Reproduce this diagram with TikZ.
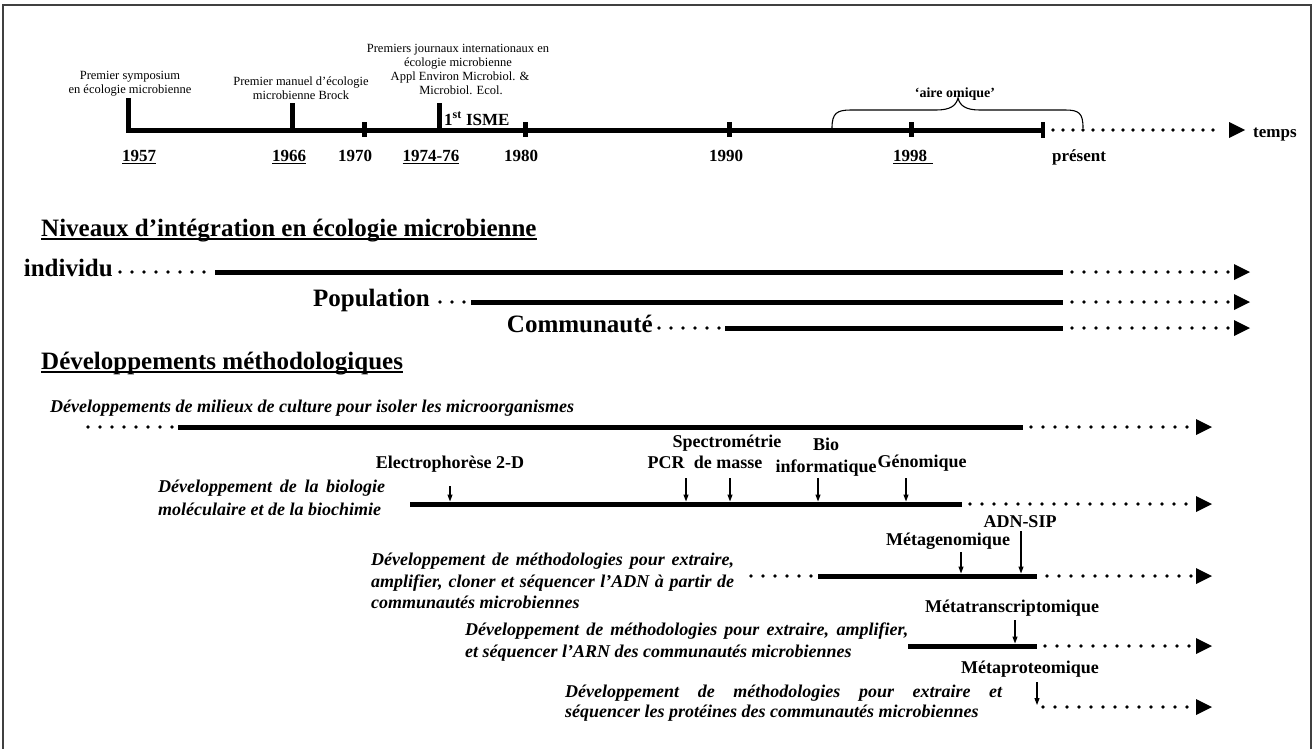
\documentclass[tikz,border=0pt]{standalone}
\usepackage{fontspec}
\setmainfont{Liberation Serif}
\usetikzlibrary{arrows.meta}
\newcommand{\ulx}[4]{\setbox0=\hbox{#4}\rlap{\rule[-#1]{\dimexpr\wd0+#3\relax}{#2}}\box0}
\newcommand{\headtip}[2]{\fill (#1-16,#2-8) -- (#1,#2) -- (#1-16,#2+8) -- cycle;}
\begin{document}
\begin{tikzpicture}[x=1pt,y=-1pt,
  bar/.style={line width=5pt, draw=black},
  dotline/.style={line width=3.8pt, line cap=round, dash pattern=on 0pt off 12pt},
  tdots/.style={line width=3.8pt, line cap=round, dash pattern=on 0pt off 10pt},
  tick/.style={line width=5pt},
  ptr/.style={line width=1.1pt, -{Triangle[length=7pt,width=5pt]}},
  lbl/.style={font=\bfseries\fontsize{18}{20}\selectfont, inner sep=0pt, anchor=base},
  date/.style={font=\bfseries\fontsize{17}{20}\selectfont, inner sep=0pt, anchor=base},
  small/.style={font=\fontsize{12.5}{14}\selectfont, inner sep=0pt, anchor=base},
  desc/.style={font=\bfseries\itshape\fontsize{18}{22}\selectfont, inner sep=0pt, anchor=base west},
  title/.style={font=\bfseries\fontsize{25}{28}\selectfont, inner sep=0pt, anchor=base west},
  lvl/.style={font=\bfseries\fontsize{25}{28}\selectfont, inner sep=0pt, anchor=base east}]
\useasboundingbox (0,0) rectangle (1314,748);
% frame
\draw[line width=1.6pt, black!75] (3,752) -- (3,5) -- (1311,5) -- (1311,752);

% ---------- timeline ----------
\coordinate (tA) at (126,130);
\coordinate (tB) at (1043,130);
\coordinate (tC) at (1053,130);
\coordinate (tD) at (1223,130);
\draw[bar] (tA) -- (tB);
\foreach \x/\t in {128/98, 292/103, 439/103} \draw[tick] (\x,\t) -- (\x,132.5);
\foreach \x in {364,525,729,911} \draw[tick] (\x,122) -- (\x,137);
\draw[line width=4pt] (1043,122) -- (1043,138);
\draw[tdots] (tC) -- (tD);
\headtip{1245}{130}
\node[font=\bfseries\fontsize{17}{20}\selectfont, inner sep=0pt, anchor=base west] (temps) at (1253,137) {temps};

\node[date] (d1957) at (139,161) {\ulx{3pt}{1.2pt}{0pt}{1957}};
\node[date] (d1966) at (289,161) {\ulx{3pt}{1.2pt}{0pt}{1966}};
\node[date] (d1970) at (355,161) {1970};
\node[date] (d1974) at (431,161) {\ulx{3pt}{1.2pt}{0pt}{1974-76}};
\node[date] (d1980) at (521,161) {1980};
\node[date] (d1990) at (726,161) {1990};
\node[date] (d1998) at (910,161) {\ulx{3pt}{1.2pt}{6pt}{1998}};
\node[date] (dpres) at (1079,161) {présent};

\node[small] (s1a) at (130,79) {Premier symposium};
\node[small] (s1b) at (130,93) {en écologie microbienne};
\node[small] (s2a) at (301,85) {Premier manuel d’écologie};
\node[small] (s2b) at (301,99) {microbienne Brock};
\node[small] (s3a) at (458,52) {Premiers journaux internationaux en};
\node[small] (s3b) at (458,66) {écologie microbienne};
\node[small] (s3c) at (460,80) {Appl Environ Microbiol. \&};
\node[small] (s3d) at (461,94) {Microbiol. Ecol.};
\node[font=\bfseries\fontsize{17}{20}\selectfont, inner sep=0pt, anchor=base west] (isme) at (444,125) {1\textsuperscript{st} ISME};

% brace
\draw[line width=1.1pt] (832,128) .. controls (832,113) and (837,110) .. (851,110) -- (936,110)
  .. controls (950,110) and (956,106) .. (958,98) .. controls (960,106) and (966,110) .. (980,110)
  -- (1065,110) .. controls (1079,110) and (1083,113) .. (1083,128);
\node[font=\bfseries\fontsize{14}{16}\selectfont, inner sep=0pt, anchor=base] (omique) at (955,97) {‘aire omique’};

% ---------- levels ----------
\node[title] (niv) at (41,236) {\ulx{4pt}{1.6pt}{0pt}{Niveaux d’intégration en écologie microbienne}};

\node[lvl] (ind) at (113,276) {individu};
\coordinate (i1) at (120,272); \coordinate (i2) at (209,272);
\coordinate (i3) at (215,272); \coordinate (i4) at (1063,272);
\coordinate (i5) at (1072,272); \coordinate (i6) at (1230,272);
\draw[dotline] (i1) -- (i2); \draw[bar] (i3) -- (i4); \draw[dotline] (i5) -- (i6);
\headtip{1250}{272}

\node[lvl] (pop) at (430,306) {Population};
\coordinate (p1) at (440,302); \coordinate (p2) at (465,302);
\coordinate (p3) at (471,302); \coordinate (p4) at (1063,302);
\coordinate (p5) at (1072,302); \coordinate (p6) at (1230,302);
\draw[dotline] (p1) -- (p2); \draw[bar] (p3) -- (p4); \draw[dotline] (p5) -- (p6);
\headtip{1250}{302}

\node[lvl] (com) at (653,332) {Communauté};
\coordinate (c1) at (659,328); \coordinate (c2) at (719,328);
\coordinate (c3) at (725,328); \coordinate (c4) at (1063,328);
\coordinate (c5) at (1072,328); \coordinate (c6) at (1230,328);
\draw[dotline] (c1) -- (c2); \draw[bar] (c3) -- (c4); \draw[dotline] (c5) -- (c6);
\headtip{1250}{328}

% ---------- methods ----------
\node[title] (dev) at (41,369) {\ulx{4pt}{1.6pt}{0pt}{Développements méthodologiques}};

% M1
\node[desc] (m1) at (50,412) {Développements de milieux de culture pour isoler les microorganismes};
\coordinate (a1) at (88,427); \coordinate (a2) at (173,427);
\coordinate (a3) at (178,427); \coordinate (a4) at (1023,427);
\coordinate (a5) at (1031,427); \coordinate (a6) at (1192,427);
\draw[dotline] (a1) -- (a2); \draw[bar] (a3) -- (a4); \draw[dotline] (a5) -- (a6);
\headtip{1212}{427}

% M2
\node[desc] (m2a) at (158,492) {\makebox[227pt][s]{Développement de la biologie}};
\node[desc] (m2b) at (158,515) {moléculaire et de la biochimie};
\coordinate (b1) at (410,504); \coordinate (b2) at (962,504);
\coordinate (b3) at (970,504); \coordinate (b4) at (1192,504);
\draw[bar] (b1) -- (b2); \draw[dotline] (b3) -- (b4);
\headtip{1212}{504}
\node[lbl] (elec) at (450,468) {Electrophorèse 2-D};
\node[lbl] (pcr) at (666,468) {PCR};
\node[lbl] (spec1) at (727,447) {Spectrométrie};
\node[lbl] (spec2) at (728,468) {de masse};
\node[lbl] (bio1) at (826,450) {Bio};
\node[lbl] (bio2) at (826,472) {informatique};
\node[lbl] (gen) at (922,467) {Génomique};
\coordinate (e0) at (450,486); \coordinate (e1) at (450,501.5);
\coordinate (q0) at (686,478); \coordinate (q1) at (686,501.5);
\coordinate (sp0) at (730,478); \coordinate (sp1) at (730,501.5);
\coordinate (bi0) at (818,478); \coordinate (bi1) at (818,501.5);
\coordinate (g0) at (906,478); \coordinate (g1) at (906,501.5);
\draw[ptr] (e0) -- (e1);
\draw[ptr] (q0) -- (q1);
\draw[ptr] (sp0) -- (sp1);
\draw[ptr] (bi0) -- (bi1);
\draw[ptr] (g0) -- (g1);

% M3
\node[desc] (m3a) at (371,565) {\makebox[363pt][s]{Développement de méthodologies pour extraire,}};
\node[desc] (m3b) at (371,587) {\makebox[363pt][s]{amplifier, cloner et séquencer l’ADN à partir de}};
\node[desc] (m3c) at (371,608) {communautés microbiennes};
\coordinate (k1) at (751,576); \coordinate (k2) at (812,576);
\coordinate (k3) at (818,576); \coordinate (k4) at (1037,576);
\coordinate (k5) at (1047,576); \coordinate (k6) at (1192,576);
\draw[dotline] (k1) -- (k2); \draw[bar] (k3) -- (k4); \draw[dotline] (k5) -- (k6);
\headtip{1212}{576}
\node[lbl] (sip) at (1020,527) {ADN-SIP};
\node[lbl] (metag) at (948,545) {Métagenomique};
\coordinate (sip0) at (1021,531); \coordinate (sip1) at (1021,573.5);
\coordinate (mg0) at (961,552); \coordinate (mg1) at (961,573.5);
\draw[ptr] (sip0) -- (sip1);
\draw[ptr] (mg0) -- (mg1);

% M4
\node[desc] (m4a) at (465,635) {\makebox[443pt][s]{Développement de méthodologies pour extraire, amplifier,}};
\node[desc] (m4b) at (465,657) {et séquencer l’ARN des communautés microbiennes};
\coordinate (r1) at (908,646); \coordinate (r2) at (1037,646);
\coordinate (r3) at (1045,646); \coordinate (r4) at (1192,646);
\draw[bar] (r1) -- (r2); \draw[dotline] (r3) -- (r4);
\headtip{1212}{646}
\node[lbl] (metat) at (1012,612) {Métatranscriptomique};
\coordinate (mt0) at (1015,620); \coordinate (mt1) at (1015,643.5);
\draw[ptr] (mt0) -- (mt1);

% M5
\node[desc] (m5a) at (565,697) {\makebox[437pt][s]{Développement de méthodologies pour extraire et}};
\node[desc] (m5b) at (565,717) {séquencer les protéines des communautés microbiennes};
\coordinate (w1) at (1043,707); \coordinate (w2) at (1192,707);
\draw[dotline] (w1) -- (w2);
\headtip{1212}{707}
\node[lbl] (metap) at (1030,673) {Métaproteomique};
\coordinate (mp0) at (1037,682); \coordinate (mp1) at (1037,705);
\draw[ptr] (mp0) -- (mp1);
\end{tikzpicture}
\end{document}
